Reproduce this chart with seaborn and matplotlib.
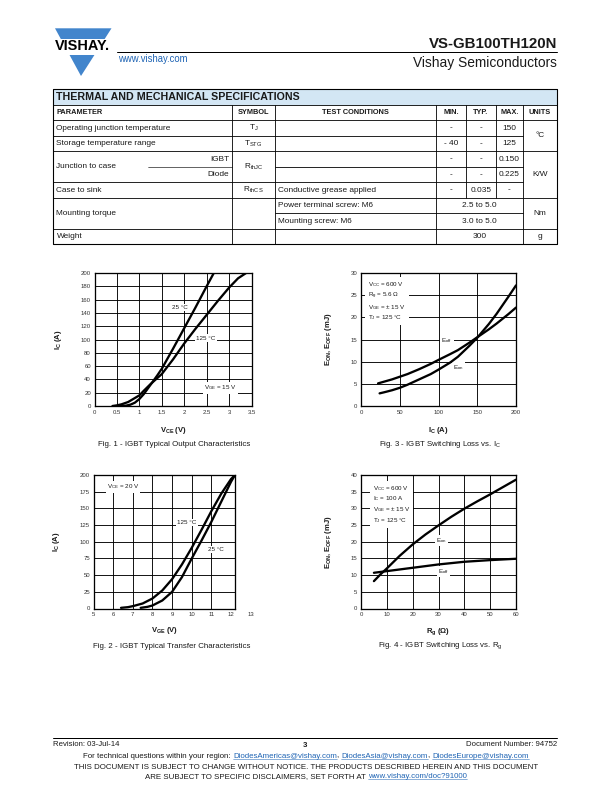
import numpy as np
import pandas as pd
import matplotlib
matplotlib.use("Agg")
import matplotlib.pyplot as plt
from matplotlib.patches import Rectangle, Polygon
import seaborn as sns

sns.set_style("white")
plt.rcParams["font.family"] = ["Liberation Sans", "DejaVu Sans"]
plt.rcParams["mathtext.fontset"] = "custom"
plt.rcParams["mathtext.rm"] = "Liberation Sans"
plt.rcParams["mathtext.it"] = "Liberation Sans:italic"
plt.rcParams["mathtext.bf"] = "Liberation Sans:bold"
plt.rcParams["mathtext.sf"] = "Liberation Sans"

LOGO_BLUE = "#4285cc"
LINK_BLUE = "#1f64b4"
HEAD_BLUE = "#d3e6f4"
TXT = "#1a1a1a"

# Fig. 1 - IGBT typical output characteristics (VGE = 15 V)
fig1_vce_25 = [0.55, 0.7, 0.8, 0.9, 1.0, 1.1, 1.25, 1.4, 1.5, 1.75, 2.0, 2.25, 2.5, 2.66]
fig1_ic_25 = [0, 0.5, 2, 5, 10.5, 18, 32, 46, 56, 86, 117, 148, 180, 200]
fig1_vce_125 = [0.4, 0.5, 0.6, 0.75, 0.9, 1.0, 1.1, 1.25, 1.5, 1.75, 2.0, 2.25, 2.5, 2.75, 3.0, 3.2, 3.38]
fig1_ic_125 = [0, 1, 2.5, 6, 12, 16, 23, 33, 48, 70, 94, 116, 137, 158, 178, 192, 200]
fig1_xticks = [0, 0.5, 1, 1.5, 2, 2.5, 3, 3.5]
fig1_xlabels = ["0", "0.5", "1", "1.5", "2", "2.5", "3", "3.5"]
fig1_yticks = [0, 20, 40, 60, 80, 100, 120, 140, 160, 180, 200]

# Fig. 2 - IGBT typical transfer characteristics (VCE = 20 V)
fig2_vge_125 = [6.4, 6.75, 7.0, 7.5, 8.0, 8.5, 9.0, 9.5, 10.0, 10.5, 11.0, 11.5, 12.0, 12.2]
fig2_ic_125 = [1, 2, 3.5, 7.5, 15, 27, 44, 66, 91, 118, 146, 172, 194, 200]
fig2_vge_25 = [7.4, 7.75, 8.0, 8.5, 9.0, 9.5, 10.0, 10.5, 11.0, 11.5, 12.0, 12.2]
fig2_ic_25 = [1, 2.5, 4.5, 12, 25, 47, 75, 102, 130, 160, 190, 200]
fig2_xticks = [5, 6, 7, 8, 9, 10, 11, 12]
fig2_yticks = [0, 25, 50, 75, 100, 125, 150, 175, 200]

# Fig. 3 - IGBT switching loss vs. IC
fig3_ic_off = [22, 30, 40, 50, 60, 75, 90, 100, 115, 125, 140, 150, 165, 175, 190, 200]
fig3_eoff = [5.1, 5.5, 6.0, 6.6, 7.2, 8.3, 9.5, 10.4, 11.7, 12.6, 14.3, 15.5, 17.3, 18.6, 20.7, 22.2]
fig3_ic_on = [24, 30, 40, 50, 60, 75, 90, 100, 115, 125, 140, 150, 165, 175, 190, 200]
fig3_eon = [2.85, 3.1, 3.55, 4.1, 4.8, 6.0, 7.2, 8.2, 9.8, 11.1, 13.6, 15.4, 18.5, 20.8, 24.6, 27.2]
fig3_xticks = [0, 50, 100, 150, 200]
fig3_yticks = [0, 5, 10, 15, 20, 25, 30]

# Fig. 4 - IGBT switching loss vs. Rg
fig4_rg_on = [5, 7.5, 10, 15, 20, 25, 30, 35, 40, 45, 50, 55, 60]
fig4_eon = [8.2, 10.2, 12.0, 15.8, 19.2, 22.2, 24.9, 27.5, 29.9, 32.1, 34.2, 36.4, 38.6]
fig4_rg_off = [5, 10, 20, 30, 40, 50, 60]
fig4_eoff = [10.7, 11.2, 12.2, 13.2, 14.0, 14.5, 14.9]
fig4_xticks = [0, 10, 20, 30, 40, 50, 60]
fig4_yticks = [0, 5, 10, 15, 20, 25, 30, 35, 40]

# thermal and mechanical table
header_cols = ["PARAMETER", "SYMBOL", "TEST CONDITIONS", "MIN.", "TYP.", "MAX.", "UNITS"]
param_names = ["Operating junction temperature", "Storage temperature range",
               "Junction to case", "Case to sink", "Mounting torque", "Weight"]
junction_parts = ["IGBT", "Diode"]
symbols = [r"T$_\mathregular{J}$", r"T$_\mathregular{STG}$", r"R$_\mathregular{thJC}$", r"R$_\mathregular{thCS}$"]
conditions = ["Conductive grease applied", "Power terminal screw: M6", "Mounting screw: M6"]
min_vals = ["-", "- 40", "-", "-", "-"]
typ_vals = ["-", "-", "-", "-", "0.035"]
max_vals = ["150", "125", "0.150", "0.225", "-"]
range_vals = ["2.5 to 5.0", "3.0 to 5.0", "300"]
unit_vals = ["°C", "K/W", "Nm", "g"]

W, H = 612, 792
fig = plt.figure(figsize=(W / 72, H / 72), dpi=72)
page = fig.add_axes([0, 0, 1, 1])
page.set_xlim(0, W)
page.set_ylim(H, 0)
page.axis("off")


def px_box(left, top, right, bottom):
    return [left / W, 1 - bottom / H, (right - left) / W, (bottom - top) / H]


# header with logo
page.add_patch(Polygon([(55, 28.3), (111.5, 28.3), (81, 76)], closed=True, fc=LOGO_BLUE, ec="none"))
page.add_patch(Rectangle((48, 38.5), 68, 16, fc="white", ec="none"))
page.text(82, 46.5, "VISHAY.", ha="center", va="center", fontsize=14.5, fontweight="bold", color="black")
page.plot([117, 557], [52, 52], color="black", lw=1)
page.text(557, 47.5, "VS-GB100TH120N", ha="right", va="baseline", fontsize=15, fontweight="bold", color=TXT)
page.text(557, 67, "Vishay Semiconductors", ha="right", va="baseline", fontsize=13.8, color=TXT)
page.text(118, 61.5, "www.vishay.com", ha="left", va="baseline", fontsize=9.5, color=LINK_BLUE)

# table
COLS = [53, 232, 275, 436, 466, 496, 523, 557]
ROWS = [89 + 15.5 * k for k in range(11)]


def cell(c0, c1, r0, r1, text="", ha="center", bold=False, size=8.2, fc=None):
    x0, x1, y0, y1 = COLS[c0], COLS[c1], ROWS[r0], ROWS[r1]
    page.add_patch(Rectangle((x0, y0), x1 - x0, y1 - y0, fill=fc is not None,
                             fc=fc if fc else "none", ec="black", lw=0.6))
    if text:
        if ha == "left":
            x = x0 + 3.5
        elif ha == "right":
            x = x1 - 3
        else:
            x = (x0 + x1) / 2
        page.text(x, (y0 + y1) / 2 + 0.4, text, ha=ha, va="center", fontsize=size,
                  fontweight="bold" if bold else "normal", color=TXT)


cell(0, 7, 0, 1, "THERMAL AND MECHANICAL SPECIFICATIONS", ha="left", bold=True, size=10.6, fc=HEAD_BLUE)
for i, name in enumerate(header_cols):
    cell(i, i + 1, 1, 2, name, ha="left" if i == 0 else "center", bold=True, size=7.4)

# temperatures
for k in range(2):
    r = 2 + k
    cell(0, 1, r, r + 1, param_names[k], ha="left")
    cell(1, 2, r, r + 1, symbols[k])
    cell(2, 3, r, r + 1)
    cell(3, 4, r, r + 1, min_vals[k])
    cell(4, 5, r, r + 1, typ_vals[k])
    cell(5, 6, r, r + 1, max_vals[k])
cell(6, 7, 2, 4, unit_vals[0])

# junction to case
cell(0, 1, 4, 6, param_names[2], ha="left")
page.plot([148, COLS[1]], [ROWS[5], ROWS[5]], color="black", lw=0.6)
page.text(COLS[1] - 3, (ROWS[4] + ROWS[5]) / 2 + 0.4, junction_parts[0], ha="right", va="center", fontsize=8.2, color=TXT)
page.text(COLS[1] - 3, (ROWS[5] + ROWS[6]) / 2 + 0.4, junction_parts[1], ha="right", va="center", fontsize=8.2, color=TXT)
cell(1, 2, 4, 6, symbols[2])
for k in range(2):
    r = 4 + k
    cell(2, 3, r, r + 1)
    cell(3, 4, r, r + 1, min_vals[2 + k])
    cell(4, 5, r, r + 1, typ_vals[2 + k])
    cell(5, 6, r, r + 1, max_vals[2 + k])
cell(6, 7, 4, 7, unit_vals[1])

# case to sink
cell(0, 1, 6, 7, param_names[3], ha="left")
cell(1, 2, 6, 7, symbols[3])
cell(2, 3, 6, 7, conditions[0], ha="left")
cell(3, 4, 6, 7, min_vals[4])
cell(4, 5, 6, 7, typ_vals[4])
cell(5, 6, 6, 7, max_vals[4])

# mounting torque and weight
cell(0, 1, 7, 9, param_names[4], ha="left")
cell(1, 2, 7, 9)
cell(2, 3, 7, 8, conditions[1], ha="left")
cell(2, 3, 8, 9, conditions[2], ha="left")
cell(3, 6, 7, 8, range_vals[0])
cell(3, 6, 8, 9, range_vals[1])
cell(6, 7, 7, 9, unit_vals[2])
cell(0, 1, 9, 10, param_names[5], ha="left")
cell(1, 2, 9, 10)
cell(2, 3, 9, 10)
cell(3, 6, 9, 10, range_vals[2])
cell(6, 7, 9, 10, unit_vals[3])
page.add_patch(Rectangle((COLS[0], ROWS[0]), COLS[-1] - COLS[0], ROWS[-1] - ROWS[0],
                         fill=False, ec="black", lw=1.1))


def curves(pairs):
    frames = [pd.DataFrame({"x": xs, "y": ys, "curve": name}) for name, xs, ys in pairs]
    return pd.concat(frames, ignore_index=True)


def chart(box, df, xlim, ylim, xticks, yticks, xgrid, ygrid, xlabels=None):
    ax = fig.add_axes(px_box(*box))
    for v in xgrid:
        ax.axvline(v, color="black", lw=0.9, zorder=1)
    for v in ygrid:
        ax.axhline(v, color="black", lw=0.9, zorder=1)
    sns.lineplot(data=df, x="x", y="y", units="curve", estimator=None, sort=False,
                 color="black", lw=2.3, legend=False, ax=ax, zorder=3)
    ax.set_xlim(*xlim)
    ax.set_ylim(*ylim)
    ax.set_xticks(xticks)
    ax.set_yticks(yticks)
    if xlabels is not None:
        ax.set_xticklabels(xlabels)
    ax.tick_params(length=0, labelsize=6, labelcolor="#333333", pad=3.5)
    for s in ax.spines.values():
        s.set_visible(True)
        s.set_color("black")
        s.set_linewidth(1.3)
    ax.set_xlabel("")
    ax.set_ylabel("")
    return ax


def axis_labels(ax, box, xlab, ylab, xlab_y, ylab_x):
    left, top, right, bottom = box
    ax.set_xlabel(xlab, fontsize=7.6, fontweight="bold", color=TXT)
    ax.set_ylabel(ylab, fontsize=7.6, fontweight="bold", color=TXT)
    ax.xaxis.label.set_va("center")
    ax.yaxis.label.set_va("center")
    ax.xaxis.set_label_coords(0.5, (bottom - xlab_y) / (bottom - top))
    ax.yaxis.set_label_coords((ylab_x - left) / (right - left), 0.5)


def note(ax, x, y, s, ha="center", size=6.2):
    ax.text(x, y, s, ha=ha, va="center", fontsize=size, color=TXT, zorder=2,
            bbox=dict(fc="white", ec="none", pad=1.2))


# Fig. 1
box1 = (94.5, 273, 251.5, 406)
ax1 = chart(box1, curves([("25", fig1_vce_25, fig1_ic_25), ("125", fig1_vce_125, fig1_ic_125)]),
            (0, 3.5), (0, 200), fig1_xticks, fig1_yticks, fig1_xticks[1:-1], fig1_yticks[1:-1], fig1_xlabels)
axis_labels(ax1, box1, r"V$_\mathbf{CE}$ (V)", r"I$_\mathbf{C}$ (A)", 430, 58)
note(ax1, 1.9, 148, "25 °C")
note(ax1, 2.48, 102, "125 °C")
note(ax1, 2.8, 27, r"V$_\mathregular{GE}$ = 15 V")

# Fig. 3
box3 = (361, 273, 516, 406)
ax3 = chart(box3, curves([("off", fig3_ic_off, fig3_eoff), ("on", fig3_ic_on, fig3_eon)]),
            (0, 200), (0, 30), fig3_xticks, fig3_yticks, fig3_xticks[1:-1], fig3_yticks[1:-1])
axis_labels(ax3, box3, r"I$_\mathbf{C}$ (A)", r"E$_\mathbf{ON}$, E$_\mathbf{OFF}$ (mJ)", 430, 328)
ax3.text(9, 28.4, "V$_\\mathregular{CC}$ = 600 V\nR$_\\mathregular{g}$ = 5.6 Ω\nV$_\\mathregular{GE}$ = ± 15 V\nT$_\\mathregular{J}$ = 125 °C",
         ha="left", va="top", fontsize=6.2, color=TXT, zorder=2, linespacing=1.3,
         bbox=dict(fc="white", ec="none", pad=3))
note(ax3, 111, 14.8, r"E$_\mathregular{off}$")
note(ax3, 126, 8.6, r"E$_\mathregular{on}$")

# Fig. 2
box2 = (93.5, 475, 235, 608.5)
ax2 = chart(box2, curves([("125", fig2_vge_125, fig2_ic_125), ("25", fig2_vge_25, fig2_ic_25)]),
            (5, 12.2), (0, 200), fig2_xticks, fig2_yticks, fig2_xticks[1:-1], fig2_yticks[1:-1])
ax2.annotate("13", xy=(13, 0), xycoords=("data", "axes fraction"), xytext=(0, -3.5),
             textcoords="offset points", ha="center", va="top", fontsize=6,
             color="#333333", annotation_clip=False)
axis_labels(ax2, box2, r"V$_\mathbf{GE}$ (V)", r"I$_\mathbf{C}$ (A)", 631, 56)
note(ax2, 6.5, 182, r"V$_\mathregular{CE}$ = 20 V")
note(ax2, 9.75, 129, "125 °C")
note(ax2, 11.24, 88, "25 °C")

# Fig. 4
box4 = (361, 475, 516, 608.5)
ax4 = chart(box4, curves([("on", fig4_rg_on, fig4_eon), ("off", fig4_rg_off, fig4_eoff)]),
            (0, 60), (0, 40), fig4_xticks, fig4_yticks, fig4_xticks[1:-1], fig4_yticks[1:-1])
axis_labels(ax4, box4, r"R$_\mathbf{g}$ (Ω)", r"E$_\mathbf{ON}$, E$_\mathbf{OFF}$ (mJ)", 632, 328)
ax4.text(4.5, 37.4, "V$_\\mathregular{CC}$ = 600 V\nI$_\\mathregular{C}$ = 100 A\nV$_\\mathregular{GE}$ = ± 15 V\nT$_\\mathregular{J}$ = 125 °C",
         ha="left", va="top", fontsize=6.2, color=TXT, zorder=2, linespacing=1.3,
         bbox=dict(fc="white", ec="none", pad=3))
note(ax4, 31.3, 20.4, r"E$_\mathregular{on}$")
note(ax4, 31.9, 11, r"E$_\mathregular{off}$")

# captions
page.text(174, 444, "Fig. 1 - IGBT Typical Output Characteristics", ha="center", va="center", fontsize=7.9, color=TXT)
page.text(440, 444, r"Fig. 3 - IGBT Switching Loss vs. I$_\mathregular{C}$", ha="center", va="center", fontsize=7.9, color=TXT)
page.text(172, 646, "Fig. 2 - IGBT Typical Transfer Characteristics", ha="center", va="center", fontsize=7.9, color=TXT)
page.text(440, 646, r"Fig. 4 - IGBT Switching Loss vs. R$_\mathregular{g}$", ha="center", va="center", fontsize=7.9, color=TXT)

# footer
page.plot([53, 557], [737.5, 737.5], color="black", lw=1)
page.text(53, 746, "Revision: 03-Jul-14", ha="left", va="baseline", fontsize=7.8, color=TXT)
page.text(305, 747, "3", ha="center", va="baseline", fontsize=7.8, fontweight="bold", color=TXT)
page.text(557, 746, "Document Number: 94752", ha="right", va="baseline", fontsize=7.8, color=TXT)

renderer = fig.canvas.get_renderer()


def text_row(pieces, xc, y, size):
    placed = []
    x = 0.0
    for s, color in pieces:
        t = page.text(x, y, s, ha="left", va="baseline", fontsize=size, color=color)
        w = t.get_window_extent(renderer).width
        placed.append((t, x, w, color))
        x += w
    shift = xc - x / 2
    for t, x0, w, color in placed:
        t.set_x(x0 + shift)
        if color != TXT:
            page.plot([x0 + shift, x0 + shift + w], [y + 1.4, y + 1.4], color=color, lw=0.5)


text_row([("For technical questions within your region: ", TXT), ("DiodesAmericas@vishay.com", LINK_BLUE),
          (", ", TXT), ("DiodesAsia@vishay.com", LINK_BLUE), (", ", TXT),
          ("DiodesEurope@vishay.com", LINK_BLUE)], 306, 757.5, 7.9)
text_row([("THIS DOCUMENT IS SUBJECT TO CHANGE WITHOUT NOTICE. THE PRODUCTS DESCRIBED HEREIN AND THIS DOCUMENT", TXT)],
         306, 769, 7.9)
text_row([("ARE SUBJECT TO SPECIFIC DISCLAIMERS, SET FORTH AT ", TXT), ("www.vishay.com/doc?91000", LINK_BLUE)],
         306, 778, 7.9)

fig.savefig("out.png", dpi=72)
